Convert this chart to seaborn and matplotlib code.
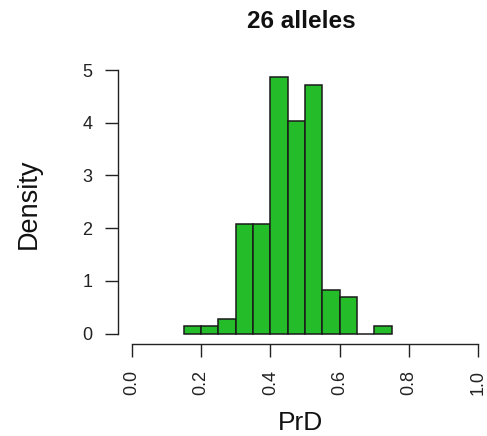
import matplotlib
matplotlib.use("Agg")
import numpy as np
import pandas as pd
import seaborn as sns
import matplotlib.pyplot as plt

# ---- data ----
bin_edges = [0.15, 0.20, 0.25, 0.30, 0.35, 0.40, 0.45, 0.50, 0.55, 0.60, 0.65, 0.70, 0.75]
bin_counts = [1, 1, 2, 15, 15, 35, 29, 34, 6, 5, 0, 1]
title_text = "26 alleles"
x_label = "PrD"
y_label = "Density"
x_ticks = [0.0, 0.2, 0.4, 0.6, 0.8, 1.0]
x_tick_labels = ["0.0", "0.2", "0.4", "0.6", "0.8", "1.0"]
y_ticks = [0, 1, 2, 3, 4, 5]
y_tick_labels = ["0", "1", "2", "3", "4", "5"]

sns.set_style("white")
plt.rcParams["font.family"] = ["Liberation Sans", "DejaVu Sans"]

W, H = 487, 436
fig = plt.figure(figsize=(W / 100, H / 100), dpi=100)
left_px, right_px = 117.9, 492.0
bottom_px, top_px = 344.2, 59.5
ax = fig.add_axes([left_px / W, 1 - bottom_px / H,
                   (right_px - left_px) / W, (bottom_px - top_px) / H])

centers = [(a + b) / 2 for a, b in zip(bin_edges[:-1], bin_edges[1:])]
df = pd.DataFrame({"PrD": centers, "count": bin_counts})
sns.histplot(data=df, x="PrD", weights="count", bins=bin_edges, stat="density",
             color="#25BC29", edgecolor="#1a1a1a", linewidth=1.1, alpha=1, ax=ax)

ax.set_xlim(-0.04, 1.04)
ax.set_ylim(-0.2, 5.2)
for s in ["top", "right"]:
    ax.spines[s].set_visible(False)
for s in ["left", "bottom"]:
    ax.spines[s].set_color("#222222")
    ax.spines[s].set_linewidth(1.0)
ax.spines["left"].set_bounds(0, 5)
ax.spines["bottom"].set_bounds(0, 1)

ax.set_xticks(x_ticks)
ax.set_xticklabels(x_tick_labels, rotation=90)
ax.set_yticks(y_ticks)
ax.set_yticklabels(y_tick_labels)
ax.tick_params(axis="both", direction="out", length=9.3, width=1.0, color="#222222",
               pad=9, labelsize=13, labelcolor="#222222", left=True, bottom=True)
ax.set_xlabel("")
ax.set_ylabel("")
ax.grid(False)

fig.text(301 / W, 1 - 21 / H, title_text, ha="center", va="center",
         fontsize=17.5, fontweight="bold", color="#111111")
fig.text(301 / W, 1 - 422.5 / H, x_label, ha="center", va="center",
         fontsize=19, color="#111111")
fig.text(29 / W, 1 - 204 / H, y_label, ha="center", va="center",
         fontsize=19.5, rotation=90, color="#111111")

fig.savefig("out.png", dpi=100)
